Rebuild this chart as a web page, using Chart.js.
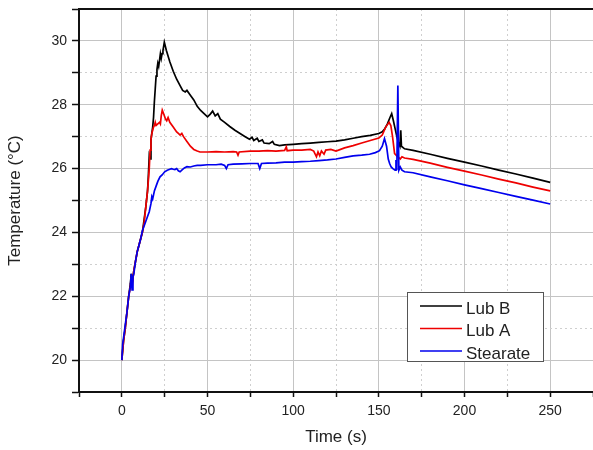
<!DOCTYPE html>
<html>
<head>
<meta charset="utf-8">
<script src="https://cdn.jsdelivr.net/npm/chart.js@4"></script>
<style>
  body { margin: 0; background: #fff; }
  #wrap { width: 593px; height: 450px; position: relative; }
</style>
</head>
<body>
<div id="wrap"><canvas id="chartTemp"></canvas></div>
<script>
// tempo (s) e temperatura (°C) de cada lubrificante
var lubBTime = [0, 1, 2, 3, 4, 5, 5.5, 6, 7, 8, 9, 10, 11, 12, 13, 14, 15, 15.5, 16, 16.5, 17, 18, 18.5, 19, 19.5, 20, 20.5, 21, 21.5, 22, 22.5, 23, 23.5, 24, 24.8,
  26, 28, 30, 32, 34, 35.5, 37, 38, 40, 42, 44, 46, 48, 50, 51.5, 53, 54.5, 56, 57.5, 60, 63, 66, 69, 72, 74.5, 76, 77, 79, 80, 82, 83, 86, 88, 89, 92, 95,
  100, 105, 110, 115, 120, 125, 130, 135, 140, 145, 150, 152, 153.5, 155, 156.5, 157.5, 158.5, 159.5, 160.5, 161.5, 162.3, 162.8, 163.2, 165, 170,
  180, 190, 200, 210, 220, 230, 240, 250];
var lubBTemp = [20.0, 20.6, 21.0, 21.5, 22.0, 22.4, 22.7, 22.4, 22.8, 23.1, 23.4, 23.6, 23.8, 24.0, 24.4, 24.8, 25.3, 25.8, 26.4, 26.3, 26.9, 27.3, 27.6, 28.1, 28.5, 28.9, 29.1, 29.3, 29.2, 29.4, 29.6, 29.45, 29.6, 29.7, 29.96,
  29.7, 29.35, 29.05, 28.8, 28.6, 28.45, 28.4, 28.45, 28.3, 28.15, 27.95, 27.82, 27.72, 27.62, 27.7, 27.8, 27.65, 27.72, 27.55, 27.45, 27.32, 27.2, 27.1, 27.0, 26.92, 26.98, 26.88, 26.95, 26.85, 26.9, 26.8, 26.78, 26.85, 26.76, 26.72, 26.74,
  26.76, 26.78, 26.8, 26.82, 26.84, 26.86, 26.9, 26.95, 27.0, 27.04, 27.1, 27.15, 27.25, 27.4, 27.6, 27.72, 27.5, 27.25, 27.0, 26.8, 26.7, 27.2, 26.7, 26.62, 26.57,
  26.45, 26.32, 26.2, 26.08, 25.95, 25.83, 25.7, 25.57];

var lubATime = [0, 1, 2, 3, 4, 5, 5.5, 6, 7, 8, 9, 10, 11, 12, 13, 14, 15, 15.5, 16, 16.5, 17, 17.5, 18, 18.5, 19, 19.5, 20, 21, 22, 22.5, 23, 23.6, 24.5, 25.5, 26.2, 27, 28,
  30, 32, 33, 34, 35, 36, 38, 40, 42, 44, 45.6, 50, 55, 60, 65, 67, 67.8, 68.5, 75, 80, 85, 90, 95, 96, 96.5, 100, 105, 110, 112, 113.6, 114.5, 115.5, 116.5, 118, 119,
  122, 125, 130, 135, 140, 145, 150, 152, 154, 156, 157, 158, 159.2, 160.5, 161.5, 162.5, 163.5, 165, 170, 180, 190, 200, 210, 220, 230, 240, 250];
var lubATemp = [20.0, 20.6, 21.0, 21.5, 22.0, 22.3, 22.6, 22.3, 22.8, 23.1, 23.4, 23.6, 23.8, 24.0, 24.3, 24.8, 25.3, 25.64, 26.0, 26.58, 26.9, 27.1, 27.2, 27.3, 27.35, 27.45, 27.35, 27.4, 27.45, 27.4, 27.65, 27.83, 27.7, 27.55, 27.5, 27.6, 27.45,
  27.3, 27.15, 27.1, 27.05, 27.1, 27.0, 26.85, 26.7, 26.6, 26.55, 26.52, 26.52, 26.53, 26.52, 26.53, 26.52, 26.42, 26.52, 26.55, 26.55, 26.56, 26.55, 26.57, 26.68, 26.56, 26.58, 26.58, 26.6, 26.55, 26.37, 26.52, 26.4, 26.55, 26.45, 26.58,
  26.6, 26.55, 26.65, 26.72, 26.8, 26.88, 26.96, 27.05, 27.3, 27.45, 27.35, 27.0, 26.47, 26.4, 26.35, 26.3, 26.37, 26.33, 26.29, 26.17, 26.04, 25.92, 25.8, 25.67, 25.55, 25.42, 25.3];

var stearTime = [0, 0.5, 1, 2, 3, 4, 5, 5.5, 6, 6.5, 7, 8, 9, 10, 11, 12, 13, 14, 15, 16, 17, 17.5, 18, 19, 20, 21, 22.3, 23.5, 25, 26.5, 28, 29, 30, 31, 32, 33, 34, 35, 36.5, 38,
  40, 42, 44, 46, 50, 55, 58, 60, 61, 62, 65, 70, 75, 79.5, 80.5, 81.5, 85, 90, 95, 100, 105, 110, 115, 120, 125, 130, 135, 140, 144.6, 148, 150.4,
  152, 153.3, 154.5, 155.5, 156.3, 157.2, 158.2, 159.5, 160, 160.5, 161.1, 161.7, 162.5, 163.5, 165, 170, 180, 190, 200, 210, 220, 230, 240, 250];
var stearTemp = [20.0, 20.5, 20.7, 21.1, 21.5, 22.0, 22.3, 22.7, 22.2, 22.6, 22.7, 23.1, 23.4, 23.6, 23.8, 24.05, 24.2, 24.35, 24.5, 24.65, 24.9, 25.12, 25.05, 25.3, 25.45, 25.6, 25.74, 25.8, 25.9, 25.95, 25.98, 26.0, 25.98, 25.97, 26.0, 25.93, 25.9, 25.95, 26.02, 26.06,
  26.05, 26.08, 26.1, 26.1, 26.12, 26.12, 26.14, 26.1, 26.0, 26.12, 26.14, 26.15, 26.16, 26.16, 26.0, 26.16, 26.17, 26.18, 26.2, 26.2, 26.22, 26.23, 26.25, 26.27, 26.3, 26.35, 26.4, 26.42, 26.45, 26.5, 26.56,
  26.7, 26.94, 26.7, 26.3, 26.16, 26.05, 26.0, 25.95, 26.27, 25.95, 28.6, 25.95, 26.05, 25.95, 25.9, 25.87, 25.74, 25.62, 25.49, 25.37, 25.25, 25.13, 25.01, 24.89];

// ticks dos eixos
var xTicksMajor = [0, 50, 100, 150, 200, 250];
var yTicksMajor = [20, 22, 24, 26, 28, 30];

function toPoints(times, temps) {
  return times.map(function(t, i) { return { x: t, y: temps[i] }; });
}

var fontFamily = '"Liberation Sans", Arial, sans-serif';
Chart.defaults.font.family = fontFamily;
Chart.defaults.color = '#222';

// legenda desenhada dentro da área do gráfico
var legendBox = {
  id: 'legendBox',
  afterDraw: function(chart) {
    var ctx = chart.ctx;
    ctx.save();
    ctx.fillStyle = '#fff';
    ctx.fillRect(407, 292, 136, 69);
    ctx.strokeStyle = '#555';
    ctx.lineWidth = 1;
    ctx.strokeRect(407.5, 292.5, 136, 69);
    ctx.font = '17px ' + fontFamily;
    ctx.textBaseline = 'alphabetic';
    chart.data.datasets.forEach(function(ds, i) {
      var base = 313.5 + i * 22.5;
      ctx.strokeStyle = ds.borderColor;
      ctx.lineWidth = 1.5;
      ctx.beginPath();
      ctx.moveTo(420, base - 7.5);
      ctx.lineTo(462, base - 7.5);
      ctx.stroke();
      ctx.fillStyle = '#222';
      ctx.fillText(ds.label, 466, base);
    });
    ctx.restore();
  }
};

function gridColor(majors, lo, hi) {
  return function(c) {
    if (!c.tick) return 'transparent';
    var v = c.tick.value;
    if (v <= lo || v >= hi) return 'transparent';
    return majors.indexOf(v) >= 0 ? '#c4c4c4' : '#cfcfcf';
  };
}
function gridDash(majors) {
  return function(c) {
    if (!c.tick) return [];
    return majors.indexOf(c.tick.value) >= 0 ? [] : [2, 3];
  };
}

var ctx = document.getElementById('chartTemp').getContext('2d');
var chart = new Chart(ctx, {
  type: 'line',
  data: {
    datasets: [{
      label: 'Lub B',
      data: toPoints(lubBTime, lubBTemp),
      borderColor: '#000000',
      order: 3
    }, {
      label: 'Lub A',
      data: toPoints(lubATime, lubATemp),
      borderColor: '#ee0000',
      order: 2
    }, {
      label: 'Stearate',
      data: toPoints(stearTime, stearTemp),
      borderColor: '#0000ee',
      order: 1
    }]
  },
  options: {
    responsive: true,
    maintainAspectRatio: false,
    animation: false,
    layout: { padding: { top: 9, left: 0, right: 0, bottom: 0 } },
    elements: {
      point: { radius: 0 },
      line: { borderWidth: 1.7, tension: 0, fill: false }
    },
    plugins: {
      legend: { display: false },
      tooltip: { enabled: false }
    },
    scales: {
      x: {
        type: 'linear',
        position: 'bottom',
        min: -25,
        max: 275,
        afterFit: function(s) { s.height = 58; },
        ticks: {
          stepSize: 25,
          autoSkip: false,
          maxRotation: 0,
          padding: 0,
          font: { size: 14, lineHeight: 2.06 },
          callback: function(v) { return xTicksMajor.indexOf(v) >= 0 ? String(v) : ''; }
        },
        grid: {
          color: gridColor(xTicksMajor, -25, 275),
          tickColor: '#111',
          tickLength: 5,
          tickWidth: 1.5,
          tickBorderDash: []
        },
        border: { display: true, color: '#111', width: 2, dash: gridDash(xTicksMajor) },
        title: { display: true, text: 'Time (s)', font: { size: 17 }, padding: { top: 0, bottom: 2 } }
      },
      xTop: {
        type: 'linear',
        position: 'top',
        min: -25,
        max: 275,
        ticks: { display: false },
        grid: { display: false, drawTicks: false },
        border: { display: true, color: '#111', width: 2 }
      },
      y: {
        type: 'linear',
        position: 'left',
        min: 19,
        max: 31,
        afterFit: function(s) { s.width = 79; },
        ticks: {
          stepSize: 1,
          autoSkip: false,
          padding: 5,
          font: { size: 14, lineHeight: 0.5 },
          callback: function(v) { return yTicksMajor.indexOf(v) >= 0 ? String(v) : ''; }
        },
        grid: {
          color: gridColor(yTicksMajor, 19, 31),
          tickColor: '#111',
          tickLength: 7,
          tickWidth: 1.5,
          tickBorderDash: []
        },
        border: { display: true, color: '#111', width: 2, dash: gridDash(yTicksMajor) },
        title: { display: true, text: 'Temperature (°C)', font: { size: 17 }, padding: { top: 5, bottom: 0 } }
      }
    }
  },
  plugins: [legendBox]
});
</script>
</body>
</html>
